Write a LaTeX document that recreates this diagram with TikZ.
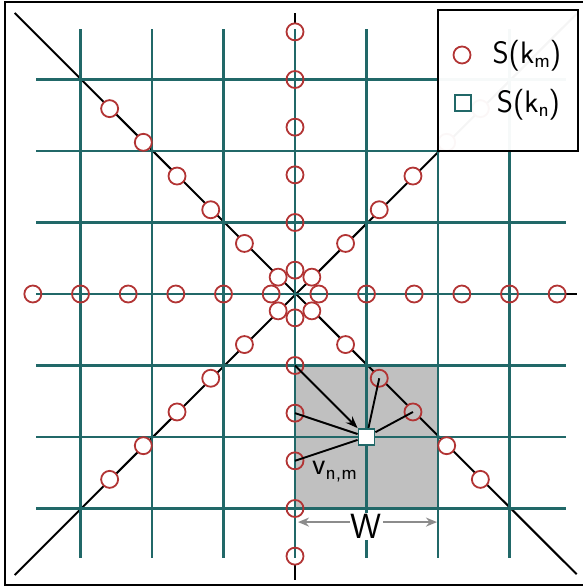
\documentclass[tikz,border=0pt]{standalone}
\usepackage{tikz}
\usetikzlibrary{arrows.meta}
\newcommand{\lowidx}[1]{\raisebox{-0.35ex}{\fontsize{21}{22}\selectfont #1}}

\begin{document}
\begin{tikzpicture}[
    x=71.5pt, y=71.5pt,
    font=\sffamily\fontsize{31}{33}\selectfont,
    gridline/.style={draw=gridc, line width=2.4pt},
    axis/.style={draw=black, line width=2pt},
    samp/.style={circle, draw=sampc, line width=1.8pt, minimum size=17pt, inner sep=0pt},
    kbox/.style={rectangle, draw=gridc, fill=white, line width=1.8pt, minimum size=16pt, inner sep=0pt},
    wire/.style={black, line width=1.9pt},
    wspan/.style={draw=spanc, line width=1.8pt, arrows={Stealth[length=11pt,width=9pt]-Stealth[length=11pt,width=9pt]}}
  ]
    \definecolor{gridc}{RGB}{33,104,104}
    \definecolor{sampc}{RGB}{178,52,52}
    \definecolor{winc}{RGB}{192,192,192}
    \definecolor{spanc}{RGB}{140,140,140}

    \useasboundingbox (-4.126,-4.112) rectangle (4.028,4.112);
    \clip (-4.126,-4.112) rectangle (4.028,4.112);

    % window W around k_n
    \fill[winc] (0,-1) rectangle (2,-3);

    % radial lines of the k_m samples
    \draw[axis] (0,3.93) -- (0,-4.0);
    \draw[axis] (-3.75,0) -- (3.94,0);
    \draw[axis] (-3.92,3.93) -- (3.94,-3.92);
    \draw[axis] (-3.92,-3.93) -- (3.94,3.92);

    % sample backgrounds
    \foreach \a in {0,45,...,315}
      \foreach \k in {0,...,5}
        \fill[white] (\a:{(2*\k+1)/3}) circle (8.5pt);
    \begin{scope}
      \clip (0,-1) rectangle (2,-3);
      \foreach \a in {0,45,...,315}
        \foreach \k in {0,...,5}
          \fill[winc] (\a:{(2*\k+1)/3}) circle (8.5pt);
    \end{scope}

    % cartesian grid
    \foreach \i in {-3,...,3} {
      \draw[gridline] (\i,-3.69) -- (\i,3.71);
      \draw[gridline] (-3.62,\i) -- (3.79,\i);
    }

    % radial samples S(k_m)
    \foreach \a in {0,45,...,315}
      \foreach \k in {0,...,5}
        \node[samp] (m-\a-\k) at (\a:{(2*\k+1)/3}) {};

    % grid sample S(k_n) and its neighbours
    \node[kbox] (kn) at (1,-2) {};
    \draw[wire, -{Stealth[length=12pt,width=9pt]}] (m-270-1.center) -- (kn);
    \draw[wire] (m-270-2.center) -- (kn);
    \draw[wire] (m-270-3.center) -- (kn);
    \draw[wire] (m-315-2.center) -- (kn);
    \draw[wire] (m-315-3.center) -- (kn);
    \node[kbox] at (kn) {};
    \node[anchor=base west, inner sep=0pt] (vnm) at (0.238,-2.53) {v\lowidx{n,m}};

    % window width
    \coordinate (wl) at (0.042,-3.19);
    \coordinate (wr) at (1.986,-3.19);
    \draw[wspan] (wl) -- (wr);
    \node[anchor=base, fill=white, inner sep=1pt, font=\sffamily\fontsize{35}{37}\selectfont] (wlab) at (1.0,-3.42) {W};

    % frame
    \draw[line width=2.5pt] (-4.056,-4.07) rectangle (4.3,4.084);

    % legend
    \draw[line width=2.5pt, fill=white, fill opacity=0.96] (2,2) rectangle (3.96,3.97);
    \node[samp] (lm) at (2.336,3.343) {};
    \node[anchor=base west, inner sep=0pt] (lmtxt) at (2.76,3.23) {S(k\lowidx{m})};
    \node[kbox] (ln) at (2.35,2.67) {};
    \node[anchor=base west, inner sep=0pt] (lntxt) at (2.82,2.545) {S(k\lowidx{n})};
  \end{tikzpicture}
\end{document}
